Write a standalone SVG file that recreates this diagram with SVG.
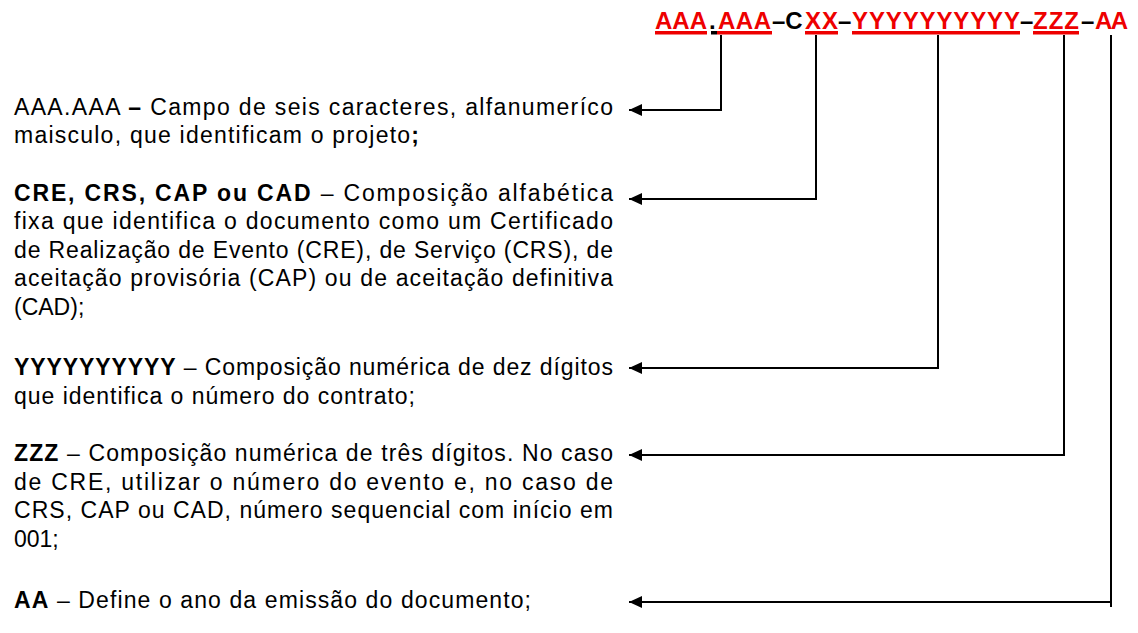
<svg xmlns="http://www.w3.org/2000/svg" width="1138" height="633" viewBox="0 0 1138 633">
<defs>
<style>
.t{font-family:"Liberation Sans",Arial,sans-serif;font-size:23px;fill:#000}
.b{font-weight:bold}
.h{font-family:"Liberation Sans",Arial,sans-serif;font-size:24px;font-weight:bold}
.r{fill:#ee0000}
.k{fill:#000}
.ul{fill:#ee0000}
.c{fill:none;stroke:#000;stroke-width:2;stroke-linejoin:miter}
</style>
<marker id="arr" markerUnits="userSpaceOnUse" markerWidth="14" markerHeight="12" refX="13" refY="6" orient="auto">
<path d="M0,0 L13,6 L0,12 Z" fill="#000"/>
</marker>
</defs>
<rect width="1138" height="633" fill="#fff"/>
<g id="code">
<text class="h" y="29"><tspan class="r" x="655" textLength="52">AAA</tspan><tspan class="k" x="709">.</tspan><tspan class="r" x="718" textLength="53">AAA</tspan><tspan class="k" x="772">–C</tspan><tspan class="r" x="805" textLength="33">XX</tspan><tspan class="k" x="838">–</tspan><tspan class="r" x="852" textLength="168">YYYYYYYYYY</tspan><tspan class="k" x="1020">–</tspan><tspan class="r" x="1033" textLength="46">ZZZ</tspan><tspan class="k" x="1081">–</tspan><tspan class="r" x="1095" textLength="33">AA</tspan></text>
<rect class="ul" x="655" y="31" width="52" height="3.5"/>
<rect x="711" y="31" width="6" height="3.5" fill="#000"/>
<rect class="ul" x="717" y="31" width="55" height="3.5"/>
<rect class="ul" x="805" y="31" width="33" height="3.5"/>
<rect class="ul" x="852" y="31" width="168" height="3.5"/>
<rect class="ul" x="1033" y="31" width="46" height="3.5"/>
</g>
<g id="desc-aaa">
<text class="t" x="14" y="115" textLength="599" lengthAdjust="spacing">AAA.AAA <tspan class="b">–</tspan> Campo de seis caracteres, alfanumeríco</text>
<text class="t" x="14" y="143" textLength="405" lengthAdjust="spacing">maisculo, que identificam o projeto<tspan class="b">;</tspan></text>
</g>
<g id="desc-cxx">
<text class="t" x="14" y="201" textLength="599" lengthAdjust="spacing"><tspan class="b">CRE, CRS, CAP ou CAD</tspan> – Composição alfabética</text>
<text class="t" x="14" y="229" textLength="599" lengthAdjust="spacing">fixa que identifica o documento como um Certificado</text>
<text class="t" x="14" y="258" textLength="599" lengthAdjust="spacing">de Realização de Evento (CRE), de Serviço (CRS), de</text>
<text class="t" x="14" y="286" textLength="599" lengthAdjust="spacing">aceitação provisória (CAP) ou de aceitação definitiva</text>
<text class="t" x="14" y="315">(CAD);</text>
</g>
<g id="desc-yyy">
<text class="t" x="14" y="375" textLength="599" lengthAdjust="spacing"><tspan class="b">YYYYYYYYYY</tspan> – Composição numérica de dez dígitos</text>
<text class="t" x="14" y="404" textLength="401" lengthAdjust="spacing">que identifica o número do contrato;</text>
</g>
<g id="desc-zzz">
<text class="t" x="14" y="461" textLength="599" lengthAdjust="spacing"><tspan class="b">ZZZ</tspan> – Composição numérica de três dígitos. No caso</text>
<text class="t" x="14" y="490" textLength="599" lengthAdjust="spacing">de CRE, utilizar o número do evento e, no caso de</text>
<text class="t" x="14" y="518" textLength="599" lengthAdjust="spacing">CRS, CAP ou CAD, número sequencial com início em</text>
<text class="t" x="14" y="547">001;</text>
</g>
<g id="desc-aa">
<text class="t" x="14" y="608" textLength="517" lengthAdjust="spacing"><tspan class="b">AA</tspan> – Define o ano da emissão do documento;</text>
</g>
<g id="connectors">
<path class="c" d="M721,35 V110 H629" marker-end="url(#arr)"/>
<path class="c" d="M816,35 V199 H629" marker-end="url(#arr)"/>
<path class="c" d="M938,35 V368 H629" marker-end="url(#arr)"/>
<path class="c" d="M1064,35 V455 H629" marker-end="url(#arr)"/>
<path class="c" d="M1111,35 V607 M1111,602 H629" marker-end="url(#arr)"/>
</g>
</svg>
